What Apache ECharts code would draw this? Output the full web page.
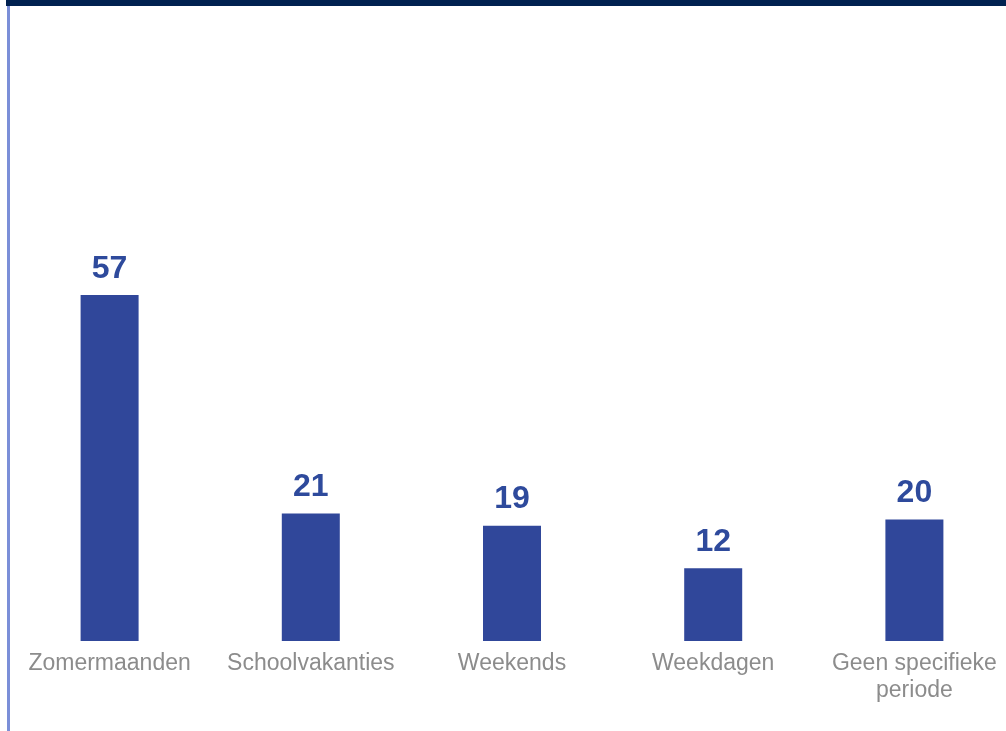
<!DOCTYPE html>
<html>
<head>
<meta charset="utf-8">
<script src="https://cdn.jsdelivr.net/npm/echarts@6/dist/echarts.min.js"></script>
<style>
html,body{margin:0;padding:0;background:#fff;overflow:hidden;width:1006px;height:731px;}
#chart{width:1020px;height:731px;}
</style>
</head>
<body>
<div id="chart"></div>
<script>
const categories = ['Zomermaanden', 'Schoolvakanties', 'Weekends', 'Weekdagen', 'Geen specifieke\nperiode'];
const values = [57, 21, 19, 12, 20];

const chart = echarts.init(document.getElementById('chart'), null, {renderer: 'canvas'});
chart.setOption({
  animation: false,
  backgroundColor: '#ffffff',
  graphic: [
    {type: 'rect', shape: {x: 6, y: 0, width: 1014, height: 6}, style: {fill: '#002150'}},
    {type: 'rect', shape: {x: 7, y: 6, width: 3, height: 725}, style: {fill: '#7b8fd8'}}
  ],
  grid: {left: 9, width: 1006, top: 34, bottom: 90, containLabel: false},
  xAxis: {
    type: 'category',
    data: categories,
    axisLine: {show: false},
    axisTick: {show: false},
    axisLabel: {
      color: '#8c8c8c',
      fontSize: 23,
      fontFamily: 'Liberation Sans',
      margin: 9,
      lineHeight: 27,
      interval: 0
    }
  },
  yAxis: {
    type: 'value',
    min: 0,
    max: 100,
    show: false,
    splitLine: {show: false}
  },
  series: [{
    type: 'bar',
    data: values,
    barWidth: 58,
    itemStyle: {color: '#30479a'},
    label: {
      show: true,
      position: 'top',
      distance: 10,
      color: '#2e4a9c',
      fontSize: 32,
      fontWeight: 'bold',
      fontFamily: 'Liberation Sans'
    }
  }]
});
</script>
</body>
</html>
